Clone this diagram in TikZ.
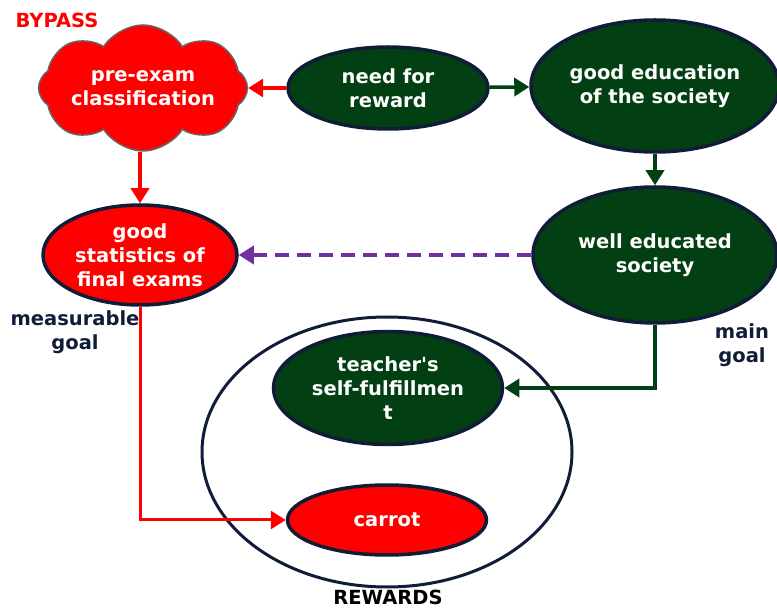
\documentclass[tikz,border=0pt]{standalone}
\usepackage{fontspec}
\setmainfont{DejaVu Sans}
\usetikzlibrary{arrows.meta,shapes.geometric,shapes.symbols}
\definecolor{dkgreen}{RGB}{2,64,20}
\definecolor{navy}{RGB}{16,28,56}
\definecolor{violetline}{RGB}{112,48,160}

\begin{document}
\begin{tikzpicture}[x=1pt,y=-1pt]
        \tikzset{Goal/.style={ellipse,draw=navy,line width=3.5pt,inner sep=0pt,text=white,
                        align=center,font=\bfseries\fontsize{19.5}{24}\selectfont},
                 GreenGoal/.style={Goal,fill=dkgreen},
                 RedGoal/.style={Goal,fill=red},
                 Tag/.style={text=navy,align=center,font=\bfseries\fontsize{19.5}{24}\selectfont},
                 EdgeStyle/.style={line width=3.5pt,-{Triangle[length=15pt,width=18pt]}}}
        \useasboundingbox (0,0) rectangle (777,609);
        % the reward frame first, so the goals lie on top
        \node[draw=navy,line width=3pt,ellipse,minimum width=370,minimum height=270] (rewards) at (387,452) {};
        \node[cloud,cloud puffs=8,cloud puff arc=115,cloud ignores aspect,fill=red,draw=gray!80!black,
              line width=1.5pt,minimum width=208,minimum height=126,text=white,align=center,
              font=\bfseries\fontsize{19.5}{24}\selectfont] (cloud) at (143,88) {pre-exam\\classification};
        \node[GreenGoal,minimum width=200,minimum height=82] (need) at (388,88) {need for\\reward};
        \node[GreenGoal,minimum width=248,minimum height=132] (edu) at (655,86) {good education\\of the society};
        \node[GreenGoal,minimum width=244,minimum height=136] (well) at (655,255) {well educated\\society};
        \node[RedGoal,minimum width=194,minimum height=100] (stats) at (140,255) {good\\statistics of\\final exams};
        \node[GreenGoal,minimum width=229,minimum height=113] (teacher) at (388,388) {teacher\textquotesingle s\\self-fulfillmen\\t};
        \node[RedGoal,minimum width=199,minimum height=70] (carrot) at (387,520) {carrot};
        % labels
        \node[Tag,text=red] (bypass) at (57,20) {BYPASS};
        \node[Tag] (measurable) at (75,332) {measurable\\goal};
        \node[Tag] (main) at (742,345) {main\\goal};
        \node[Tag,text=black,inner sep=1pt] (rewardslabel) at (388,597) {REWARDS};
        % connectors
        \draw[EdgeStyle,red] (need) -- (cloud);
        \draw[EdgeStyle,dkgreen] (need) -- (edu);
        \draw[EdgeStyle,dkgreen] (edu) -- (well);
        \draw[EdgeStyle,red] (stats.north |- cloud.south) -- (stats);
        \draw[EdgeStyle,violetline,dash pattern=on 14pt off 8pt] (well) -- (stats);
        \draw[EdgeStyle,dkgreen] (well.south) |- (teacher.east);
        \draw[EdgeStyle,red,line width=3pt] (stats.south) |- (carrot.west);
\end{tikzpicture}
\end{document}
